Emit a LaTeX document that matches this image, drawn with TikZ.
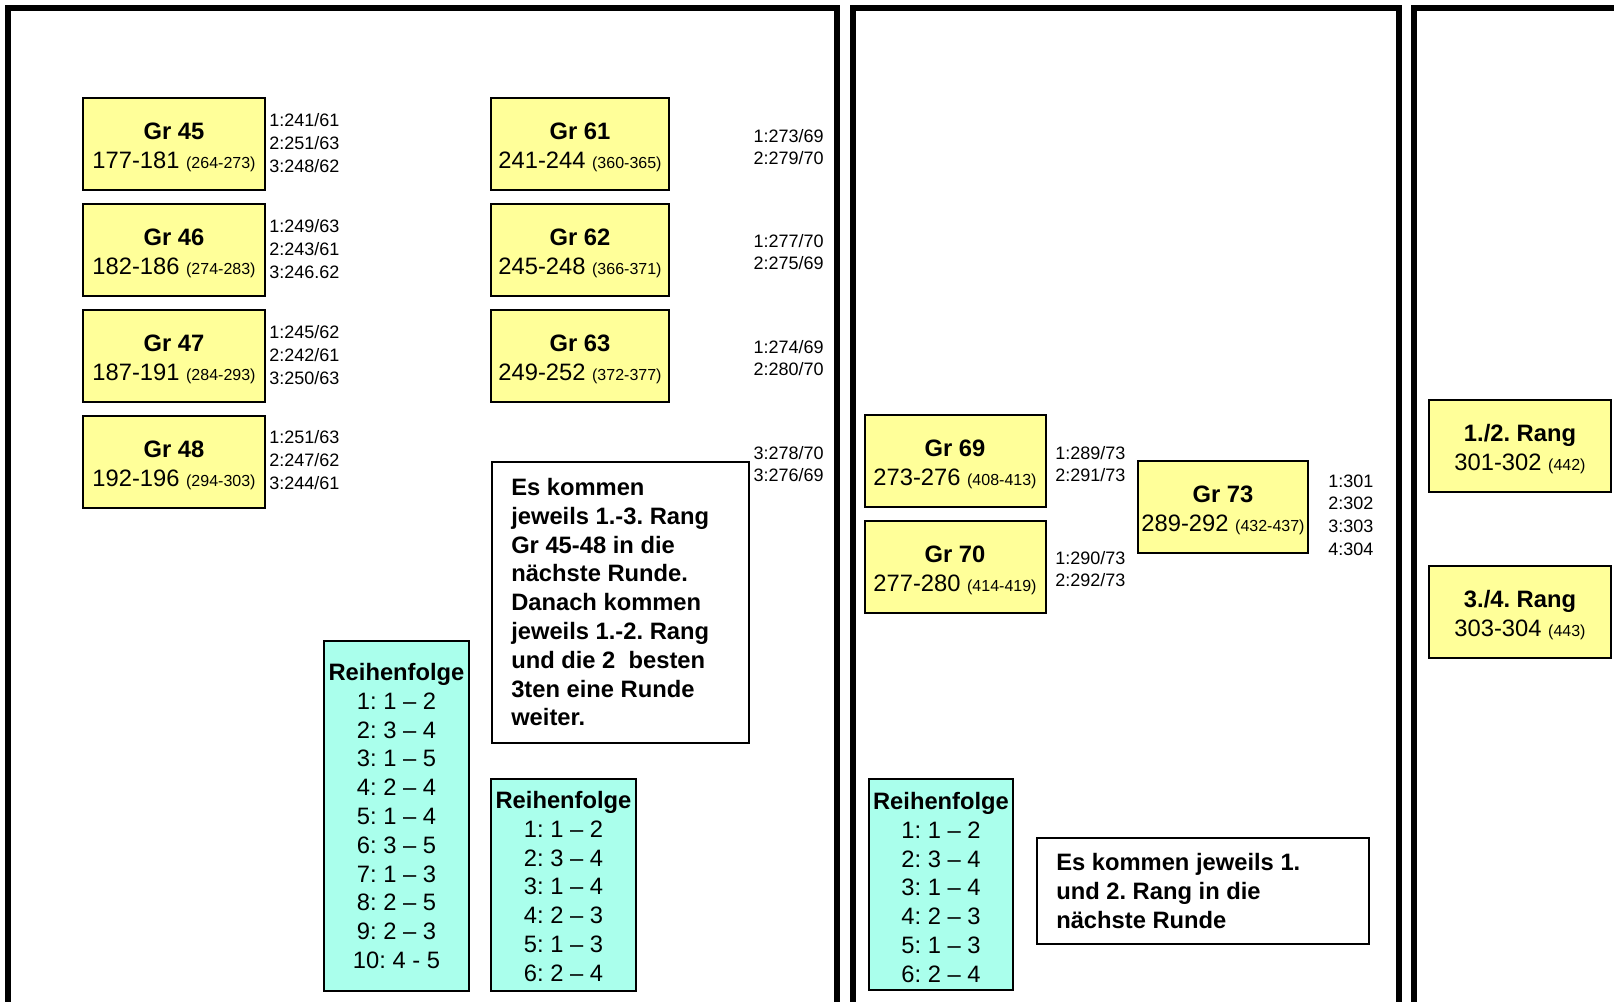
\documentclass[tikz,border=0pt]{standalone}
\usepackage{fontspec}
\setmainfont{Liberation Sans}
\usetikzlibrary{calc}
\definecolor{gelb}{RGB}{255,255,153}
\definecolor{tuerkis}{RGB}{170,255,236}
\newcommand\kleinschrift{\fontsize{12}{14}\selectfont}
\newcommand\GrBox[7]{%
  \node[gbox, minimum width=#4*0.75pt] (#1) at (#2,#3) {};
  \node[ttl] (#1t) at ($(#1.center)+(0,-5)$) {#5};
  \node[num] (#1n) at ($(#1.center)+(0,24.5)$) {#6 {\kleinschrift(#7)}};
}
\frenchspacing
\begin{document}
\begin{tikzpicture}[x=0.75pt,y=-0.75pt,
  frame/.style={line width=4.5pt, line join=miter, black},
  gbox/.style={draw=black, line width=1.5pt, fill=gelb, minimum height=68.6pt, inner sep=0pt},
  ttl/.style={anchor=base, inner sep=0pt, font=\bfseries\fontsize{17.8}{21}\selectfont},
  num/.style={anchor=base, inner sep=0pt, font=\fontsize{17.8}{21}\selectfont},
  lbl/.style={inner sep=0pt, font=\fontsize{13.5}{17}\selectfont},
  tbox/.style={draw=black, line width=1.5pt, fill=white, inner sep=0pt},
  info/.style={inner sep=0pt, align=left, font=\bfseries\fontsize{17.8}{21.6}\selectfont},
  rbox/.style={draw=black, line width=1.5pt, fill=tuerkis, inner sep=0pt},
  rtext/.style={inner sep=0pt, align=center, anchor=north, font=\fontsize{17.8}{21.6}\selectfont}
]
\useasboundingbox (0,0) rectangle (1614,1001);
\clip (0,0) rectangle (1614,1001);

% frames
\draw[frame] (8,1030) -- (8,8) -- (837,8) -- (837,1030);
\draw[frame] (853,1030) -- (853,8) -- (1399,8) -- (1399,1030);
\draw[frame] (1414,1030) -- (1414,8) -- (1640,8);

% first column groups
\GrBox{g45}{174}{144}{182}{Gr 45}{177-181}{264-273}
\GrBox{g46}{174}{250}{182}{Gr 46}{182-186}{274-283}
\GrBox{g47}{174}{356}{182}{Gr 47}{187-191}{284-293}
\GrBox{g48}{174}{462}{182}{Gr 48}{192-196}{294-303}

\node[lbl, align=left, anchor=west] (l45) at (269,143) {1:241/61\\2:251/63\\3:248/62};
\node[lbl, align=left, anchor=west] (l46) at (269,249) {1:249/63\\2:243/61\\3:246.62};
\node[lbl, align=left, anchor=west] (l47) at (269,355) {1:245/62\\2:242/61\\3:250/63};
\node[lbl, align=left, anchor=west] (l48) at (269,460) {1:251/63\\2:247/62\\3:244/61};

% second column groups
\GrBox{g61}{580}{144}{178}{Gr 61}{241-244}{360-365}
\GrBox{g62}{580}{250}{178}{Gr 62}{245-248}{366-371}
\GrBox{g63}{580}{356}{178}{Gr 63}{249-252}{372-377}

\node[lbl, align=right, anchor=east] (l61) at (824,147) {1:273/69\\2:279/70};
\node[lbl, align=right, anchor=east] (l62) at (824,252) {1:277/70\\2:275/69};
\node[lbl, align=right, anchor=east] (l63) at (824,358) {1:274/69\\2:280/70};
\node[lbl, align=right, anchor=east] (l3x) at (824,464) {3:278/70\\3:276/69};

% info box 1
\node[tbox, minimum width=257*0.75pt, minimum height=281*0.75pt] (info1) at (620.5,602.5) {};
\node[info, anchor=north west] (info1t) at ($(info1.north west)+(20,17)$)
  {Es kommen\\jeweils 1.-3. Rang\\Gr 45-48 in die\\n\"achste Runde.\\Danach kommen\\jeweils 1.-2. Rang\\und die 2\ \ besten\\3ten eine Runde\\weiter.};

% Reihenfolge boxes
\node[rbox, minimum width=145*0.75pt, minimum height=350*0.75pt] (rf1) at (396.5,816) {};
\node[rtext] (rf1t) at (396.5,663)
  {\textbf{Reihenfolge}\\1: 1 -- 2\\2: 3 -- 4\\3: 1 -- 5\\4: 2 -- 4\\5: 1 -- 4\\6: 3 -- 5\\7: 1 -- 3\\8: 2 -- 5\\9: 2 -- 3\\10: 4 - 5};

\node[rbox, minimum width=145*0.75pt, minimum height=212*0.75pt] (rf2) at (563.5,885) {};
\node[rtext] (rf2t) at (563.5,791)
  {\textbf{Reihenfolge}\\1: 1 -- 2\\2: 3 -- 4\\3: 1 -- 4\\4: 2 -- 3\\5: 1 -- 3\\6: 2 -- 4};

% middle frame
\GrBox{g69}{955}{461}{181}{Gr 69}{273-276}{408-413}
\GrBox{g70}{955}{567}{181}{Gr 70}{277-280}{414-419}
\GrBox{g73}{1223}{507}{170}{Gr 73}{289-292}{432-437}

\node[lbl, align=left, anchor=west] (l69) at (1055,464) {1:289/73\\2:291/73};
\node[lbl, align=left, anchor=west] (l70) at (1055,569) {1:290/73\\2:292/73};
\node[lbl, align=left, anchor=west] (l73) at (1328,515) {1:301\\2:302\\3:303\\4:304};

\node[rbox, minimum width=144*0.75pt, minimum height=211*0.75pt] (rf3) at (941,884.5) {};
\node[rtext] (rf3t) at (941,792)
  {\textbf{Reihenfolge}\\1: 1 -- 2\\2: 3 -- 4\\3: 1 -- 4\\4: 2 -- 3\\5: 1 -- 3\\6: 2 -- 4};

\node[tbox, minimum width=332*0.75pt, minimum height=106*0.75pt] (info2) at (1202.5,891) {};
\node[info, anchor=north west] (info2t) at ($(info2.north west)+(20.5,16.5)$)
  {Es kommen jeweils 1.\\und 2. Rang in die\\n\"achste Runde};

% right frame
\GrBox{r12}{1520}{446}{182}{1./2. Rang}{301-302}{442}
\GrBox{r34}{1520}{612}{182}{3./4. Rang}{303-304}{443}
\end{tikzpicture}
\end{document}
